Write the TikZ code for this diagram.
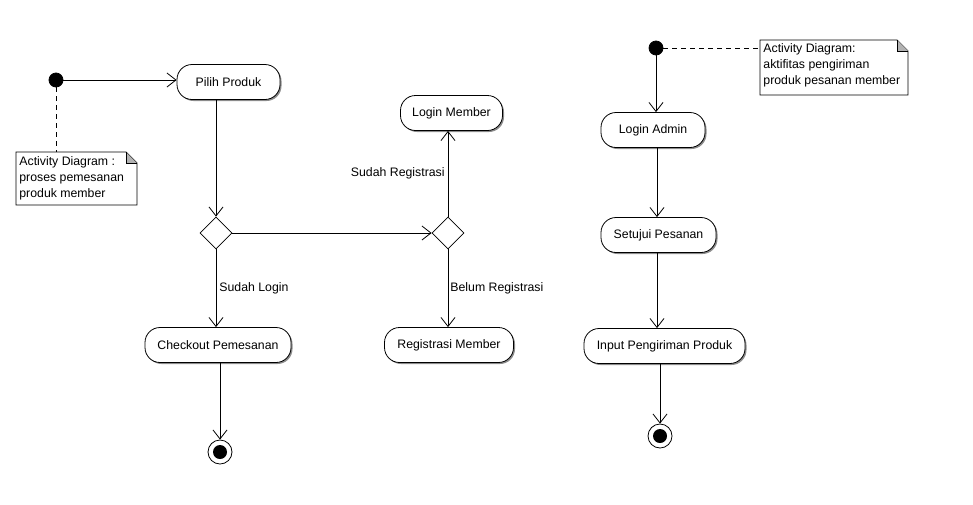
\documentclass[tikz,border=0pt]{standalone}
\usepackage{fontspec}
\setmainfont{Liberation Sans}
\usetikzlibrary{arrows.meta,shapes.geometric,shadows,calc}
\begin{document}
\begin{tikzpicture}[x=1pt,y=-1pt,line width=0.8pt,
  every node/.style={font=\fontsize{12.3}{16}\selectfont},
  act/.style={draw,fill=white,rectangle,rounded corners=15pt,minimum height=35pt,inner sep=0pt,
    drop shadow={shadow xshift=1.5pt,shadow yshift=-1.5pt,fill=black!45,opacity=1}},
  dec/.style={draw,fill=white,diamond,minimum width=32pt,minimum height=32pt,inner sep=0pt},
  startnode/.style={circle,fill=black,draw=black,minimum size=14pt,inner sep=0pt},
  endnode/.style={circle,draw=black,fill=white,minimum size=24pt,inner sep=0pt,
    path picture={\fill[black] (path picture bounding box.center) circle (7pt);}},
  flow/.style={-{Straight Barb[length=9pt,width=14pt]}},
  notetext/.style={align=left,inner sep=0pt,anchor=north west},
  lbl/.style={inner sep=0pt}
]
\useasboundingbox (0,0) rectangle (973,504);

% ---------- left diagram ----------
\node[startnode] (s1) at (56,80) {};
\node[act,minimum width=103pt] (pilih) at (228.5,82) {Pilih Produk};
\node[dec] (d1) at (216,233) {};
\node[dec] (d2) at (448,233) {};
\node[act,minimum width=102pt] (lmember) at (451.5,113) {Login Member};
\node[act,minimum width=129pt] (reg) at (449,345) {Registrasi Member};
\node[act,minimum width=146pt] (checkout) at (218,345) {Checkout Pemesanan};
\node[endnode] (e1) at (220,452) {};

% note 1
\coordinate (n1a) at (16,152);
\coordinate (n1b) at (137,205);
\draw[fill=white] (n1a) -- ($(n1b|-n1a)+(-11,0)$) -- ($(n1b|-n1a)+(0,11)$) -- (n1b) -- (n1a|-n1b) -- cycle;
\fill[black!30] ($(n1b|-n1a)+(-11,0)$) -- ($(n1b|-n1a)+(-11,11)$) -- ($(n1b|-n1a)+(0,11)$) -- cycle;
\draw ($(n1b|-n1a)+(-11,0)$) -- ($(n1b|-n1a)+(-11,11)$) -- ($(n1b|-n1a)+(0,11)$);
\node[notetext] (note1) at (19,156) {Activity Diagram :\\proses pemesanan\\produk member};
\draw[dashed,dash pattern=on 5pt off 4pt] (s1) -- (s1|-n1a);

\draw[flow] (s1) -- (s1-|pilih.west);
\draw[flow] (pilih.south-|d1) -- (d1.north);
\draw[flow] (d1.east) -- (d2.west);
\draw[flow] (d2.north) -- (d2|-lmember.south) node[lbl,pos=0.5,anchor=east,xshift=-3pt] {Sudah Registrasi};
\draw[flow] (d2.south) -- (d2|-reg.north) node[lbl,pos=0.5,anchor=west,xshift=2pt] {Belum Registrasi};
\draw[flow] (d1.south) -- (d1|-checkout.north) node[lbl,pos=0.5,anchor=west,xshift=3pt] {Sudah Login};
\draw[flow] (checkout.south-|e1) -- (e1.north);

% ---------- right diagram ----------
\node[startnode] (s2) at (656,48) {};
\node[act,minimum width=104pt] (ladmin) at (653,130) {Login Admin};
\node[act,minimum width=115pt] (setuju) at (658.5,235) {Setujui Pesanan};
\node[act,minimum width=161pt] (input) at (664.5,346) {Input Pengiriman Produk};
\node[endnode] (e2) at (660,436) {};

% note 2
\coordinate (n2a) at (760,40);
\coordinate (n2b) at (908,95);
\draw[fill=white] (n2a) -- ($(n2b|-n2a)+(-11,0)$) -- ($(n2b|-n2a)+(0,11)$) -- (n2b) -- (n2a|-n2b) -- cycle;
\fill[black!30] ($(n2b|-n2a)+(-11,0)$) -- ($(n2b|-n2a)+(-11,11)$) -- ($(n2b|-n2a)+(0,11)$) -- cycle;
\draw ($(n2b|-n2a)+(-11,0)$) -- ($(n2b|-n2a)+(-11,11)$) -- ($(n2b|-n2a)+(0,11)$);
\node[notetext] (note2) at (763,43) {Activity Diagram:\\aktifitas pengiriman\\produk pesanan member};
\draw[dashed,dash pattern=on 5pt off 4pt] (s2) -- (s2-|n2a);

\draw[flow] (s2) -- (s2|-ladmin.north);
\draw[flow] ($(ladmin.south)+(4,0)$) -- ($(setuju.north)+(-1.5,0)$);
\draw[flow] ($(setuju.south)+(-1.5,0)$) -- ($(input.north)+(-7.5,0)$);
\draw[flow] (input.south-|e2) -- (e2.north);
\end{tikzpicture}
\end{document}
